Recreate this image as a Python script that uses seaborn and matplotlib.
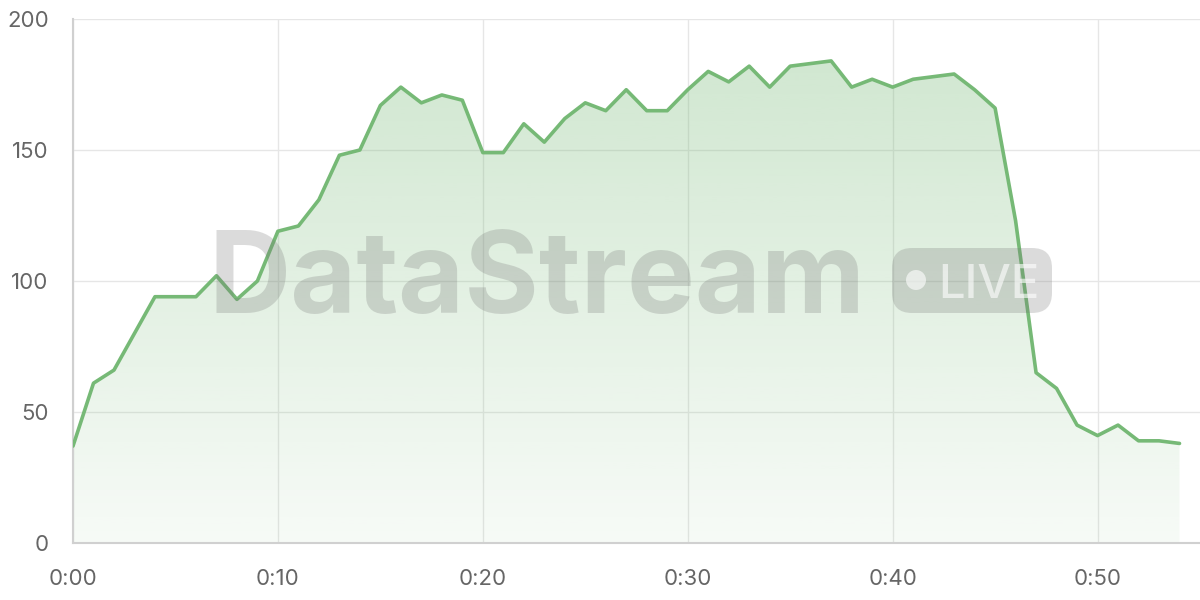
import numpy as np
import pandas as pd
import matplotlib
matplotlib.use('Agg')
import matplotlib.pyplot as plt
import seaborn as sns
from matplotlib.patches import FancyBboxPatch, Circle
from matplotlib.transforms import IdentityTransform
from matplotlib.ticker import FuncFormatter

# ---- data ----
minutes = list(range(55))
values = [37, 61, 66, 80, 94, 94, 94, 102, 93, 100,
          119, 121, 131, 148, 150, 167, 174, 168, 171, 169,
          149, 149, 160, 153, 162, 168, 165, 173, 165, 165,
          173, 180, 176, 182, 174, 182, 183, 184, 174, 177,
          174, 177, 178, 179, 173, 166, 123, 65, 59, 45,
          41, 45, 39, 39, 38]
x_ticks = [0, 10, 20, 30, 40, 50]
y_ticks = [0, 50, 100, 150, 200]
watermark = "DataStream"
badge = "LIVE"

df = pd.DataFrame({"minute": minutes, "value": values})

sns.set_theme(style="white")
plt.rcParams['font.family'] = ['Inter', 'DejaVu Sans']

line_color = "#76b976"
fig = plt.figure(figsize=(12, 6), dpi=100)
ax = fig.add_axes([73/1200, 57/600, 1 - 73/1200, (543-19)/600])

ax.set_xlim(0, 55)
ax.set_ylim(0, 200)

# gradient fill
poly = ax.fill_between(df["minute"], df["value"], 0, color="none", lw=0, zorder=1)
ny = 256
alpha = np.linspace(0.06, 0.36, ny)[:, None]
rgb = np.array(matplotlib.colors.to_rgb(line_color))
img = np.ones((ny, 1, 4))
img[..., :3] = rgb
img[..., 3] = alpha
im = ax.imshow(img, extent=[0, 54, 0, 200], origin='lower', aspect='auto', zorder=1)
im.set_clip_path(poly.get_paths()[0], transform=ax.transData)

# line
sns.lineplot(data=df, x="minute", y="value", ax=ax, color=line_color, lw=2.6, zorder=4)

# grid and ticks
ax.xaxis.set_major_locator(matplotlib.ticker.FixedLocator(x_ticks))
ax.yaxis.set_major_locator(matplotlib.ticker.FixedLocator(y_ticks))
ax.xaxis.set_major_formatter(FuncFormatter(lambda v, p: f"{int(v)//60}:{int(v)%60:02d}"))
ax.grid(True, color="#e6e6e6", lw=1, zorder=0)
ax.set_axisbelow(True)
ax.tick_params(axis='both', length=11.5, width=1, color="#e6e6e6", labelsize=16,
               labelcolor="#666666")
ax.tick_params(axis='y', pad=6)
ax.tick_params(axis='x', pad=7)
for s in ["top", "right"]:
    ax.spines[s].set_visible(False)
for s in ["left", "bottom"]:
    ax.spines[s].set_color("#d0d0d0")
    ax.spines[s].set_linewidth(1.5)
ax.set_xlabel("")
ax.set_ylabel("")

# watermark
fig.text(209/1200, 1 - 313/600, watermark, fontsize=82, fontweight='bold',
         color=(0.45, 0.45, 0.45, 0.25), va='baseline', ha='left', zorder=3)
ident = IdentityTransform()
pill = FancyBboxPatch((892, 600-313), 160, 65, boxstyle="round,pad=0,rounding_size=20",
                      transform=ident, facecolor=(0.45, 0.45, 0.45, 0.25),
                      edgecolor='none', zorder=3)
fig.patches.append(pill)
dot = Circle((916, 600-280), 10, transform=ident, facecolor=(1, 1, 1, 0.6),
             edgecolor='none', zorder=3)
fig.patches.append(dot)
fig.text(938/1200, 1 - 298/600, badge, fontsize=34, fontweight='medium',
         color=(1, 1, 1, 0.6), va='baseline', ha='left', zorder=3)

fig.savefig("out.png", dpi=100)
